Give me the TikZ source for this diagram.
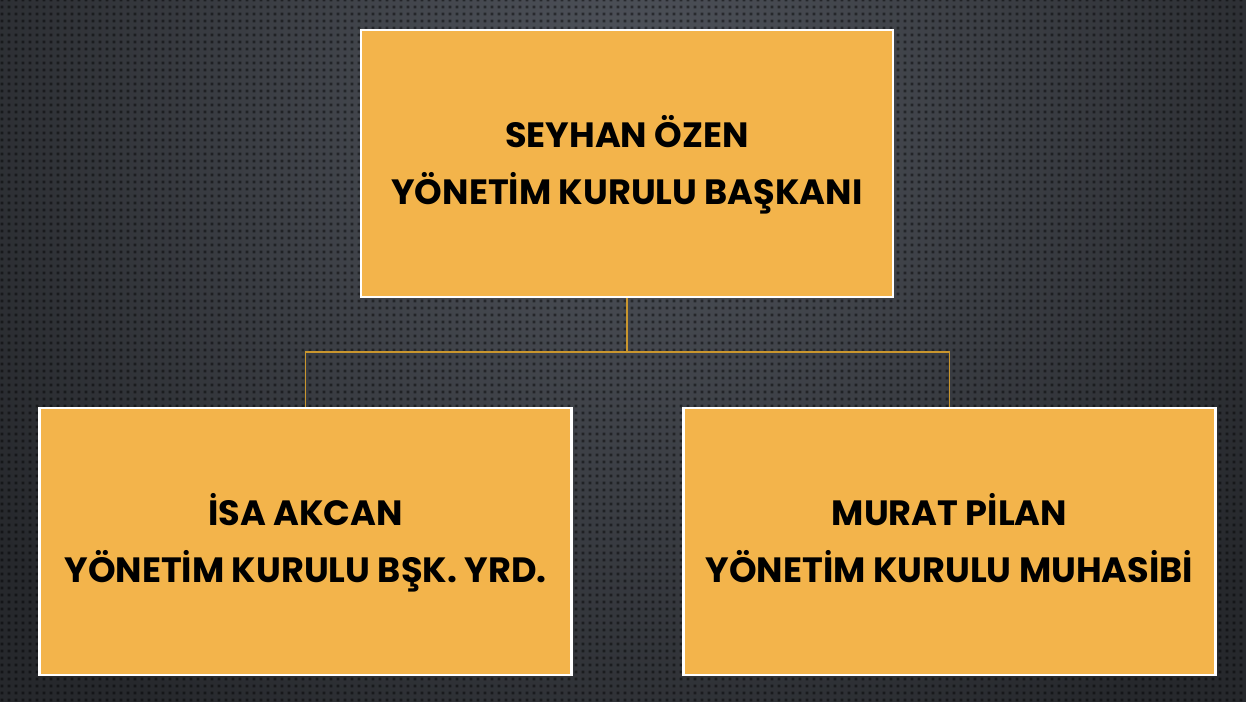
\documentclass[tikz,border=0pt]{standalone}
\usepackage{fontspec}
\setmainfont{Poppins}
\usepackage{xcolor}
\usetikzlibrary{patterns.meta,calc}
\definecolor{bgdark}{HTML}{26282C}
\definecolor{bglight}{HTML}{50545C}
\definecolor{boxfill}{HTML}{F3B44B}
\definecolor{linkgold}{HTML}{C9962E}
\tikzset{>=latex}
\tikzdeclarepattern{
  name=bgdots,
  type=uncolored,
  bounding box={(0pt,0pt) and (4pt,4pt)},
  tile size={(4pt,4pt)},
  code={\pgfpathrectangle{\pgfpoint{1.1pt}{1.1pt}}{\pgfpoint{1.8pt}{1.8pt}}\pgfusepath{fill}}
}
\tikzset{
  orgbox/.style={draw=white, line width=1.6pt, fill=boxfill, minimum width=10.64cm,
    minimum height=5.34cm, align=center, inner sep=0pt,
    font=\fontsize{20}{32.5}\selectfont\bfseries},
  link/.style={draw=linkgold, line width=0.8pt}
}
\newcommand{\orgtext}[2]{\smash{#1}\rule{0pt}{0.7em}\\\smash{#2}}

\begin{document}
\begin{tikzpicture}[x=0.02cm,y=-0.02cm]
  % Background
  \useasboundingbox (0,0) rectangle (1246,702);
  \fill[bgdark] (0,0) rectangle (1246,702);
  \begin{scope}
    \clip (0,0) rectangle (1246,702);
    \shade[inner color=bglight, outer color=bgdark] (627,110) circle (760);
  \end{scope}
  \fill[pattern=bgdots, pattern color=black, fill opacity=0.45] (0,0) rectangle (1246,702);

  % Boxes
  \node[orgbox] (pres) at (627,163.5) {\orgtext{SEYHAN ÖZEN}{YÖNETİM KURULU BAŞKANI}};
  \node[orgbox] (vice) at (305.5,541.5) {\orgtext{İSA AKCAN}{YÖNETİM KURULU BŞK. YRD.}};
  \node[orgbox] (acct) at (949.5,541.5) {\orgtext{MURAT PİLAN}{YÖNETİM KURULU MUHASİBİ}};

  % Lines
  \coordinate (split) at (627,352);
  \draw[link] (pres.south) -- (split);
  \draw[link] (vice.north) |- (split) -| (acct.north);
\end{tikzpicture}
\end{document}
